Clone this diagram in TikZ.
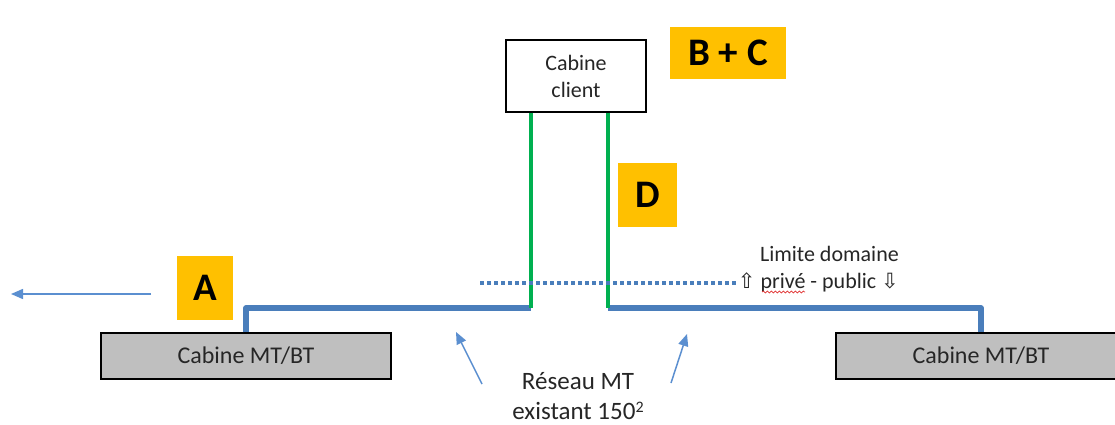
\documentclass[tikz,border=0pt]{standalone}
\usepackage{fontspec}
\setmainfont{Carlito}
\newfontfamily\djv{DejaVu Sans}
\usetikzlibrary{arrows.meta,decorations.pathmorphing}
\definecolor{orng}{HTML}{FFC000}
\definecolor{cable}{HTML}{4A7EBB}
\definecolor{arr}{HTML}{5B8FD0}
\definecolor{grn}{HTML}{00B050}
\definecolor{txt}{HTML}{262626}
\definecolor{cabfill}{HTML}{BFBFBF}
\definecolor{squig}{HTML}{E03030}
\begin{document}
\begin{tikzpicture}[x=1pt,y=-1pt,
  lbl/.style={fill=orng,inner sep=0pt,font=\fontsize{39}{40}\selectfont\bfseries,text=black},
  cab/.style={draw=black,line width=1.2pt,fill=cabfill,inner sep=0pt,minimum width=290pt,minimum height=46pt,font=\fontsize{24}{27}\selectfont,text=txt},
  plain/.style={font=\fontsize{22}{27}\selectfont,text=txt,inner sep=0pt},
  cablestyle/.style={cable,line width=5.5pt,line join=round},
  greenline/.style={grn,line width=4pt},
  thinarrow/.style={arr,line width=1.5pt,-{Triangle[length=12pt,width=10pt]}}]
\useasboundingbox (0,0) rectangle (1115,425);
% boxes
\node[draw=black,line width=1.2pt,fill=white,inner sep=0pt,minimum width=140pt,minimum height=72pt,
  align=center,font=\fontsize{22}{27}\selectfont,text=txt] (cc) at (576,76) {Cabine\\client};
\node[lbl,minimum width=116pt,minimum height=52pt] (bc) at (728,53) {B + C};
\node[lbl,minimum width=56pt,minimum height=64pt] (a) at (205,288) {A};
\node[lbl,minimum width=59pt,minimum height=64pt] (d) at (647.5,195) {D};
\node[cab] (lc) at (246,356) {Cabine MT/BT};
\node[cab] (rc) at (981,356) {Cabine MT/BT};
% cable junction coordinates
\coordinate (g1b) at (531,308);
\coordinate (g2b) at (608,308);
% blue cables
\draw[cablestyle] (lc.north) |- (g1b);
\draw[cablestyle] (rc.north) |- (g2b);
% green cables
\draw[greenline] (cc.south -| g1b) -- (g1b);
\draw[greenline] (cc.south -| g2b) -- (g2b);
% limit
\coordinate (dl1) at (480,283);
\coordinate (dl2) at (736,283);
\draw[cable,line width=3.5pt,dash pattern=on 3.5pt off 3.5pt] (dl1) -- (dl2);
\node[plain,align=right,anchor=east] (lim) at (899,269) {Limite domaine\\{\djv\fontsize{21}{27}\selectfont ⇧} privé - public {\djv\fontsize{21}{27}\selectfont ⇩}};
\coordinate (sq1) at (762,292);
\coordinate (sq2) at (805,292);
\draw[squig,line width=0.7pt,decorate,decoration={snake,amplitude=1pt,segment length=4pt}] (sq1) -- (sq2);
% arrows
\coordinate (la1) at (151,294);
\coordinate (la2) at (11,294);
\draw[thinarrow] (la1) -- (la2);
\node[plain,align=center,font=\fontsize{25}{30}\selectfont] (res) at (578,396) {Réseau MT\\existant 150\raisebox{7pt}{\fontsize{16}{16}\selectfont 2}};
\coordinate (b1s) at (482,384);
\coordinate (b1e) at (456,332);
\coordinate (b2s) at (671,383);
\coordinate (b2e) at (687,334);
\draw[thinarrow] (b1s) -- (b1e);
\draw[thinarrow] (b2s) -- (b2e);
\end{tikzpicture}
\end{document}
